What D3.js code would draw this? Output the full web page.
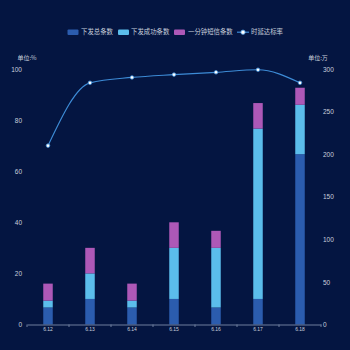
<!DOCTYPE html>
<html><head><meta charset="utf-8">
<script src="https://cdn.jsdelivr.net/npm/d3@7"></script>
<style>
html,body{margin:0;padding:0;background:#041541;}
svg{display:block;font-family:"Noto Sans CJK SC","Noto Sans",sans-serif;}
</style></head>
<body><svg id="c" width="350" height="350"></svg>
<script>
const categories = ["6.12","6.13","6.14","6.15","6.16","6.17","6.18"];
const totalSent = [20, 30, 20, 30, 20, 30, 200];
const successSent = [8, 30, 8, 60, 70, 200, 58];
const shortMsg = [20, 30, 20, 30, 20, 30, 20];
const onTimeRate = [70, 94.6, 96.7, 97.8, 98.7, 99.7, 94.6];
const leftTicks = [0, 20, 40, 60, 80, 100];
const rightTicks = [0, 50, 100, 150, 200, 250, 300];
const seriesNames = ["下发总条数","下发成功条数","一分钟短信条数","时延达标率"];
const colors = ["#2b5cae","#5bbdeb","#ad58b7"];

const svg = d3.select("#c");
const L = 27, R = 321, T = 69, B = 324.5;
const x = d3.scaleBand().domain(categories).range([L, R]);
const yL = d3.scaleLinear().domain([0,100]).range([B, T]);
const yR = d3.scaleLinear().domain([0,300]).range([B, T]);
const textColor = "#c8cfdc";

// stacked bars
const rows = categories.map((c,i)=>({cat:c, a:totalSent[i], b:successSent[i], c:shortMsg[i]}));
const stack = d3.stack().keys(["a","b","c"])(rows);
const bw = 9.5;
stack.forEach((layer, li) => {
  svg.append("g").selectAll("rect").data(layer).join("rect")
    .attr("x", d => x(d.data.cat) + x.bandwidth()/2 - bw/2)
    .attr("width", bw)
    .attr("y", d => yR(d[1]))
    .attr("height", d => yR(d[0]) - yR(d[1]))
    .attr("fill", colors[li]);
});

// x axis
const xAxis = d3.axisBottom(x).tickSize(2.5).tickSizeOuter(0);
const gx = svg.append("g").attr("transform", `translate(0,${B})`).call(xAxis);
gx.select(".domain").attr("stroke", "#6f7f9e");
gx.selectAll(".tick line").attr("stroke", "#6f7f9e");
gx.selectAll(".tick line").attr("transform", `translate(${-x.bandwidth()/2},0)`);
gx.append("line").attr("x1", R).attr("x2", R).attr("y1", 0).attr("y2", 2.5).attr("stroke", "#6f7f9e");
gx.selectAll(".tick text").attr("fill", textColor).attr("font-size", 5).attr("dy", "0.9em").attr("y", 2);

// y axes labels
const gl = svg.append("g").attr("transform", `translate(${L},0)`)
  .call(d3.axisLeft(yL).tickValues(leftTicks).tickSize(0).tickPadding(5));
gl.select(".domain").remove();
gl.selectAll(".tick text").attr("fill", textColor).attr("font-size", 6.5);

const gr = svg.append("g").attr("transform", `translate(${R},0)`)
  .call(d3.axisRight(yR).tickValues(rightTicks).tickSize(0).tickPadding(2));
gr.select(".domain").remove();
gr.selectAll(".tick text").attr("fill", textColor).attr("font-size", 6.5);

svg.append("text").attr("x", 27).attr("y", 58).attr("text-anchor","middle")
  .attr("dominant-baseline","middle").attr("fill", textColor).attr("font-size", 6).text("单位:%");
svg.append("text").attr("x", 318).attr("y", 58).attr("text-anchor","middle")
  .attr("dominant-baseline","middle").attr("fill", textColor).attr("font-size", 6).text("单位:万");

// line
const cx = c => x(c) + x.bandwidth()/2;
const line = d3.line().x((d,i)=>cx(categories[i])).y(d=>yL(d)).curve(d3.curveMonotoneX);
svg.append("path").datum(onTimeRate).attr("d", line).attr("fill","none")
  .attr("stroke","#3d8bd6").attr("stroke-width",1.2);
svg.append("g").selectAll("circle").data(onTimeRate).join("circle")
  .attr("cx",(d,i)=>cx(categories[i])).attr("cy",d=>yL(d)).attr("r",1.8)
  .attr("fill","#ffffff").attr("stroke","#3d8bd6").attr("stroke-width",0.8);

// legend
const lg = svg.append("g");
const legendItems = [
  {x:67.5, tx:81, type:"rect", color:colors[0]},
  {x:118, tx:131, type:"rect", color:colors[1]},
  {x:174, tx:188, type:"rect", color:colors[2]},
  {x:237, tx:251, type:"line", color:"#3d8bd6"}
];
legendItems.forEach((it, i) => {
  if (it.type === "rect") {
    lg.append("rect").attr("x", it.x).attr("y", 29.5).attr("width", 11).attr("height", 5.5)
      .attr("rx", 1).attr("fill", it.color);
  } else {
    lg.append("line").attr("x1", it.x).attr("x2", it.x+12).attr("y1", 32.2).attr("y2", 32.2)
      .attr("stroke", it.color).attr("stroke-width", 1.2);
    lg.append("circle").attr("cx", it.x+6).attr("cy", 32.2).attr("r", 2.2)
      .attr("fill", "#fff").attr("stroke", it.color).attr("stroke-width", 0.8);
  }
  lg.append("text").attr("x", it.tx).attr("y", 32.3).attr("dominant-baseline","middle")
    .attr("fill", textColor).attr("font-size", 6.4).text(seriesNames[i]);
});
</script></body></html>
